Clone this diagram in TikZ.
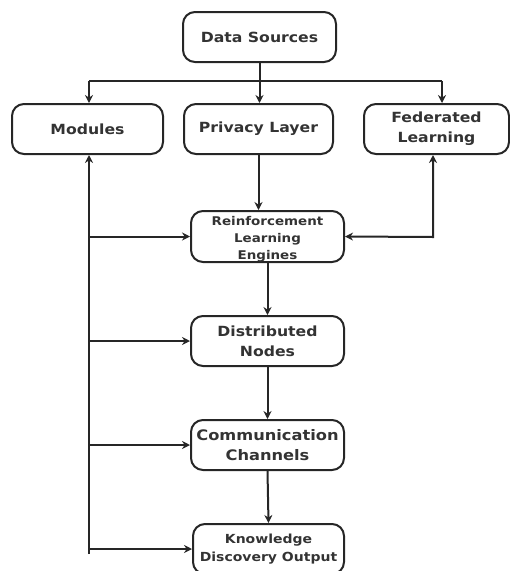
\documentclass[tikz,border=0pt]{standalone}
\usepackage{fontspec}
\setmainfont[FakeStretch=1.12]{DejaVu Sans}
\usetikzlibrary{arrows.meta}
\begin{document}
\begin{tikzpicture}[x=1pt,y=-1pt,
  box/.style={draw=black!85, line width=2pt, rounded corners=12pt, minimum width=#1, minimum height=50pt, inner sep=0pt, align=center, text=black!80, font=\bfseries\fontsize{14}{20}\selectfont},
  box/.default=153pt,
  conn/.style={draw=black!85, line width=2pt},
  tip/.tip={Stealth[length=8pt,width=8pt]},
  arr/.style={conn, -tip},
]
\useasboundingbox (0,0) rectangle (510,571);
\node[box] (ds) at (259.5,37) {Data Sources};
\node[box=151pt] (mod) at (87.5,129) {Modules};
\node[box=149pt] (priv) at (258.5,129) {Privacy Layer};
\node[box=145pt] (fed) at (436.5,129) {Federated\\Learning};
\node[box, minimum height=51pt] (rl) at (267.5,236.5) {};
\node[inner sep=0pt, align=center, text=black!80, font=\bfseries\fontsize{12}{17}\selectfont] (rltext) at ([yshift=-3pt]rl.center) {Reinforcement\\Learning\\Engines};
\node[box] (dist) at (267.5,341) {Distributed\\Nodes};
\node[box, font=\bfseries\fontsize{14.5}{20}\selectfont] (comm) at (267.5,445) {Communication\\Channels};
\node[box=151pt, font=\bfseries\fontsize{12.5}{18}\selectfont] (know) at (268.5,549) {Knowledge\\Discovery Output};

\coordinate (bL) at (89,81);
\coordinate (bR) at (442,81);
\coordinate (lb) at (89,554);
\coordinate (fc) at (433,237);

\draw[conn] (ds.south) -- (ds.south |- bL);
\draw[conn] (bL) -- (bR);
\draw[arr] (bL) -- (bL |- mod.north);
\draw[arr] (ds.south |- bL) -- (ds.south |- priv.north);
\draw[arr] (bR) -- (bR |- fed.north);

\draw[arr] (lb) -- (lb |- mod.south);
\draw[arr] (lb |- rl.west) -- (rl.west);
\draw[arr] (lb |- dist.west) -- (dist.west);
\draw[arr] (lb |- comm.west) -- (comm.west);
\draw[arr] (lb |- know.west) -- (know.west);

\draw[arr] (priv.south) -- (priv.south |- rl.north);
\draw[conn, tip-tip] (rl.east) -- (fc) -- (fc |- fed.south);

\draw[arr] (rl.south) -- (dist.north);
\draw[arr] (dist.south) -- (comm.north);
\draw[arr] (comm.south) -- (know.north);
\end{tikzpicture}
\end{document}
